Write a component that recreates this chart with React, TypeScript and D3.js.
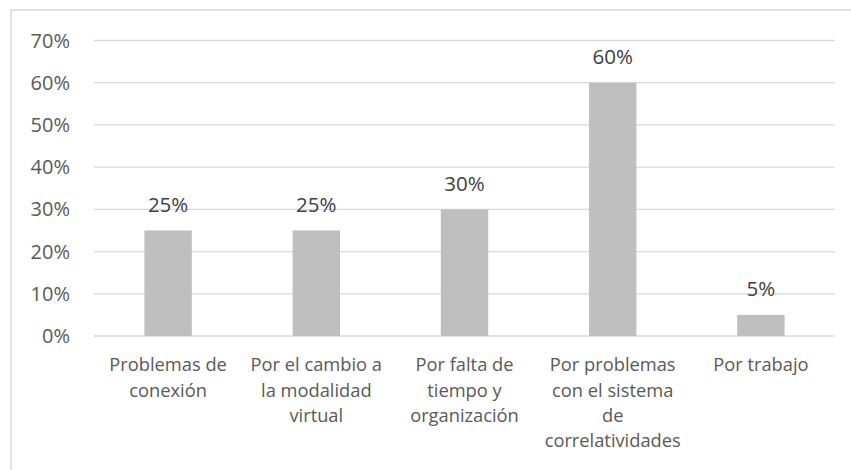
import React from "react";
import * as d3 from "d3";

const categories: string[][] = [
  ["Problemas de", "conexión"],
  ["Por el cambio a", "la modalidad", "virtual"],
  ["Por falta de", "tiempo y", "organización"],
  ["Por problemas", "con el sistema", "de", "correlatividades"],
  ["Por trabajo"],
];
const values = [0.25, 0.25, 0.3, 0.6, 0.05];
const yTicks = [0, 0.1, 0.2, 0.3, 0.4, 0.5, 0.6, 0.7];

const W = 851, H = 470;
const font = "'Open Sans', sans-serif";

export default function App() {
  const x = d3.scaleBand<number>().domain(d3.range(values.length)).range([94, 835]).paddingInner(0.68).paddingOuter(0.34);
  const y = d3.scaleLinear().domain([0, 0.7]).range([336, 40.5]);
  const fmt = d3.format(".0%");
  return (
    <svg width={W} height={H} style={{ position: "absolute", left: 0, top: 0 }}>
      <rect x={0} y={0} width={W} height={H} fill="#fff" />
      <rect x={11} y={10} width={W + 20} height={H + 20} fill="none" stroke="#d9d9d9" strokeWidth={1.5} />
      {yTicks.map((t) => (
        <g key={t}>
          <line x1={94} x2={835} y1={y(t)} y2={y(t)} stroke="#d9d9d9" strokeWidth={1.3} />
          <text x={70} y={y(t)} dy="0.35em" textAnchor="end" fontFamily={font} fontSize={20} fill="#595959">{fmt(t)}</text>
        </g>
      ))}
      {values.map((v, i) => {
        const bx = x(i)!;
        const cx = bx + x.bandwidth() / 2;
        return (
          <g key={i}>
            <rect x={bx} y={y(v)} width={x.bandwidth()} height={y(0) - y(v)} fill="#bfbfbf" />
            <text x={cx} y={y(v) - 26} dy="0.35em" textAnchor="middle" fontFamily={font} fontSize={20.5} fill="#404040">{fmt(v)}</text>
            {categories[i].map((line, j) => (
              <text key={j} x={cx} y={365 + j * 25.3} dy="0.35em" textAnchor="middle" fontFamily={font} fontSize={18.3} fill="#595959">{line}</text>
            ))}
          </g>
        );
      })}
    </svg>
  );
}
